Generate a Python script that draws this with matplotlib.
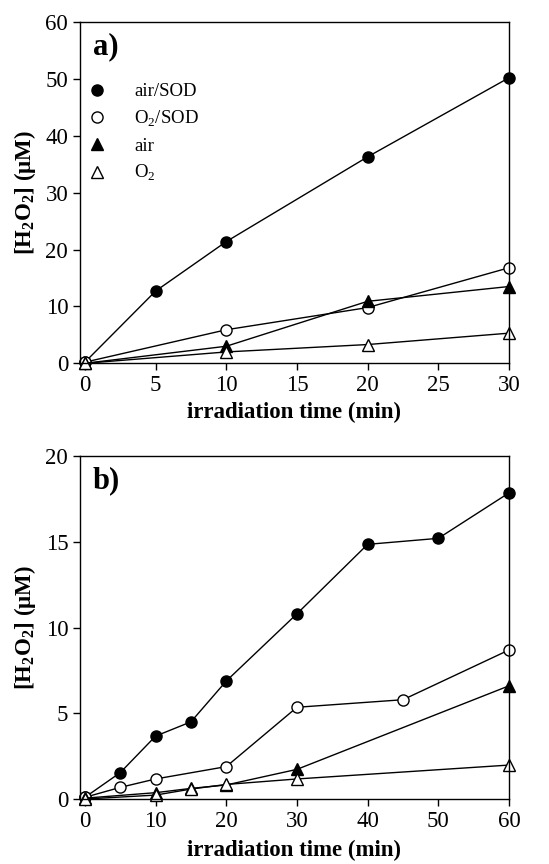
import matplotlib
matplotlib.use("Agg")
import matplotlib.pyplot as plt

plt.rcParams['font.family'] = ['Liberation Serif', 'DejaVu Serif']
plt.rcParams['mathtext.fontset'] = 'custom'
plt.rcParams['mathtext.rm'] = 'Liberation Serif'
plt.rcParams['mathtext.bf'] = 'Liberation Serif:bold'

# panel a data (0-30 min)
a_sod_air_x = [0, 5, 10, 20, 30]
a_sod_air_y = [0.2, 12.7, 21.4, 36.3, 50.2]
a_sod_o2_x = [0, 10, 20, 30]
a_sod_o2_y = [0.2, 5.9, 9.8, 16.8]
a_air_x = [0, 10, 20, 30]
a_air_y = [0.0, 3.0, 10.9, 13.5]
a_o2_x = [0, 10, 20, 30]
a_o2_y = [0.0, 2.0, 3.3, 5.3]

# panel b data (0-60 min)
b_sod_air_x = [0, 5, 10, 15, 20, 30, 40, 50, 60]
b_sod_air_y = [0.1, 1.54, 3.67, 4.5, 6.88, 10.8, 14.85, 15.2, 17.85]
b_sod_o2_x = [0, 5, 10, 20, 30, 45, 60]
b_sod_o2_y = [0.1, 0.68, 1.17, 1.89, 5.35, 5.79, 8.69]
b_air_x = [0, 10, 15, 20, 30, 60]
b_air_y = [0.05, 0.37, 0.62, 0.82, 1.73, 6.6]
b_o2_x = [0, 10, 15, 20, 30, 60]
b_o2_y = [0.0, 0.23, 0.58, 0.85, 1.17, 1.98]

labels = ['air/SOD', 'O$_2$/SOD', 'air', 'O$_2$']
styles = [('o', 'black'), ('o', 'white'), ('^', 'black'), ('^', 'white')]


def draw(ax, series, xlim, ylim, xticks, yticks, tag, legend=False, xpad=4):
    for (x, y), (m, fc), lab in zip(series, styles, labels):
        ax.plot(x, y, color='black', lw=1.0, marker=m, markersize=8,
                markerfacecolor=fc, markeredgecolor='black', markeredgewidth=1.0,
                label=lab, clip_on=False)
    ax.set_xlim(*xlim)
    ax.set_ylim(*ylim)
    ax.set_xticks(xticks)
    ax.set_yticks(yticks)
    ax.tick_params(direction='out', length=5, width=1, labelsize=16.5)
    ax.set_xlabel('irradiation time (min)', fontsize=16.5, fontweight='bold',
                  labelpad=xpad)
    ax.set_ylabel(r'[H$_\mathbf{2}$O$_\mathbf{2}$] ($\mathbf{\mu}$M)', fontsize=16.5,
                  fontweight='bold', labelpad=5)
    ax.text(0.03, 0.97, tag, transform=ax.transAxes, fontsize=22,
            fontweight='bold', va='top', ha='left')
    for s in ax.spines.values():
        s.set_linewidth(1.0)
    if legend:
        ax.legend(loc='upper left', bbox_to_anchor=(0.0, 0.87), frameon=False,
                  fontsize=13.5, handlelength=0, handletextpad=2.0,
                  labelspacing=0.45, borderaxespad=0.5)
        for line in ax.get_legend().get_lines():
            line.set_linestyle('none')


fig = plt.figure(figsize=(5.49, 8.64), dpi=100)
ax1 = fig.add_axes([0.1457, 0.5795, 0.7814, 0.395])
ax2 = fig.add_axes([0.1457, 0.0752, 0.7814, 0.397])

draw(ax1, [(a_sod_air_x, a_sod_air_y), (a_sod_o2_x, a_sod_o2_y),
           (a_air_x, a_air_y), (a_o2_x, a_o2_y)],
     (-0.35, 30), (0, 60), range(0, 31, 5), range(0, 61, 10), 'a)', legend=True)
draw(ax2, [(b_sod_air_x, b_sod_air_y), (b_sod_o2_x, b_sod_o2_y),
           (b_air_x, b_air_y), (b_o2_x, b_o2_y)],
     (-0.7, 60), (0, 20), range(0, 61, 10), range(0, 21, 5), 'b)', xpad=6)

fig.savefig('out.png', dpi=100)
